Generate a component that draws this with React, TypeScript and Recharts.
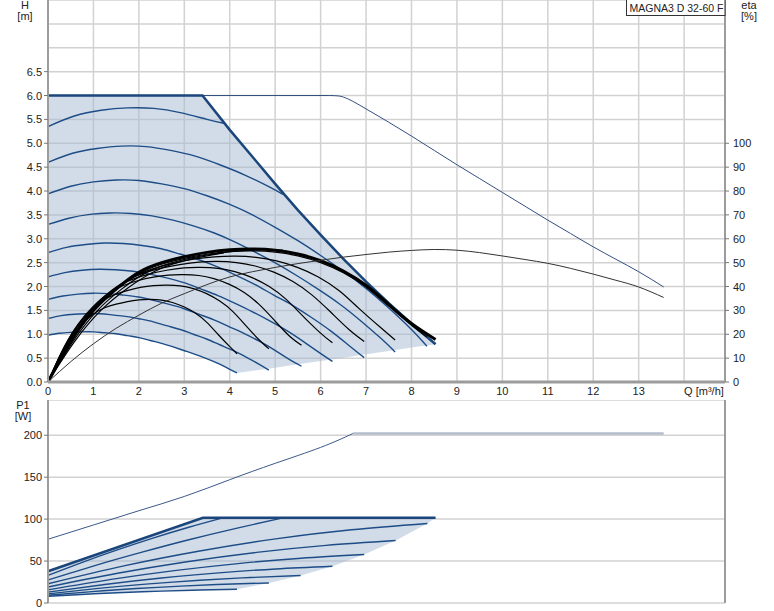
import { Area, CartesianGrid, ComposedChart, Line, XAxis, YAxis } from "recharts";

type Pt = [number, number];
type Band = [number, number, number];

// axis ticks
const qTicks = [0, 1, 2, 3, 4, 5, 6, 7, 8, 9, 10, 11, 12, 13, 14];
const hTicks = [0, 0.5, 1, 1.5, 2, 2.5, 3, 3.5, 4, 4.5, 5, 5.5, 6, 6.5, 7, 7.5];
const etaTicks = [0, 10, 20, 30, 40, 50, 60, 70, 80, 90, 100];
const pTicks = [0, 50, 100, 150, 200];

// H(Q) speed curves, [Q m3/h, H m]
const hSpeed098: Pt[] = [[0, 0.98], [0.25, 1.02], [0.5, 1.04], [0.75, 1.05], [1.0, 1.05], [1.25, 1.03], [1.5, 1.01], [1.75, 0.97], [2.0, 0.93], [2.25, 0.87], [2.5, 0.81], [2.74, 0.74], [2.99, 0.66], [3.24, 0.58], [3.49, 0.49], [3.74, 0.39], [3.99, 0.27], [4.16, 0.19]];
const hSpeed133: Pt[] = [[0, 1.33], [0.29, 1.39], [0.58, 1.42], [0.87, 1.43], [1.16, 1.43], [1.45, 1.4], [1.74, 1.37], [2.03, 1.32], [2.32, 1.26], [2.61, 1.18], [2.91, 1.1], [3.2, 1.0], [3.49, 0.9], [3.78, 0.78], [4.07, 0.66], [4.36, 0.52], [4.65, 0.37], [4.86, 0.25]];
const hSpeed173: Pt[] = [[0, 1.73], [0.33, 1.8], [0.66, 1.84], [0.99, 1.86], [1.33, 1.85], [1.66, 1.82], [1.99, 1.78], [2.32, 1.71], [2.65, 1.63], [2.98, 1.54], [3.32, 1.42], [3.65, 1.3], [3.98, 1.16], [4.31, 1.02], [4.64, 0.86], [4.97, 0.68], [5.3, 0.48], [5.58, 0.33]];
const hSpeed220: Pt[] = [[0, 2.2], [0.37, 2.29], [0.75, 2.34], [1.12, 2.36], [1.49, 2.35], [1.87, 2.32], [2.24, 2.26], [2.61, 2.18], [2.99, 2.08], [3.36, 1.95], [3.74, 1.81], [4.11, 1.65], [4.48, 1.48], [4.86, 1.29], [5.23, 1.09], [5.6, 0.86], [5.98, 0.61], [6.26, 0.43]];
const hSpeed271: Pt[] = [[0, 2.71], [0.41, 2.82], [0.83, 2.88], [1.24, 2.91], [1.66, 2.9], [2.07, 2.86], [2.49, 2.79], [2.9, 2.68], [3.32, 2.56], [3.73, 2.41], [4.15, 2.23], [4.56, 2.04], [4.97, 1.82], [5.39, 1.6], [5.8, 1.35], [6.22, 1.07], [6.63, 0.76], [6.96, 0.51]];
const hSpeed330: Pt[] = [[0, 3.3], [0.46, 3.43], [0.92, 3.51], [1.37, 3.54], [1.83, 3.53], [2.29, 3.48], [2.75, 3.39], [3.2, 3.27], [3.66, 3.12], [4.12, 2.93], [4.58, 2.71], [5.03, 2.48], [5.49, 2.22], [5.95, 1.94], [6.41, 1.64], [6.86, 1.3], [7.32, 0.92], [7.64, 0.63]];
const hSpeed394: Pt[] = [[0, 3.94], [0.5, 4.1], [1, 4.19], [1.5, 4.23], [2, 4.22], [2.5, 4.15], [3, 4.05], [3.5, 3.9], [4, 3.72], [4.5, 3.5], [5, 3.24], [5.5, 2.96], [6, 2.65], [6.5, 2.32], [7, 1.96], [7.5, 1.55], [8, 1.1], [8.34, 0.75]];
const hSpeed460: Pt[] = [[0, 4.6], [0.54, 4.79], [1.08, 4.89], [1.62, 4.94], [2.16, 4.93], [2.7, 4.85], [3.24, 4.73], [3.78, 4.55], [4.32, 4.34], [4.86, 4.09], [5.17, 3.93]];
const hSpeed535: Pt[] = [[0, 5.35], [0.58, 5.57], [1.17, 5.69], [1.75, 5.74], [2.33, 5.73], [2.91, 5.64], [3.5, 5.5], [3.87, 5.42]];
const hLimit: Pt[] = [[0, 6.0], [3.4, 6.0], [4.0, 5.28], [4.55, 4.66], [5.0, 4.15], [5.5, 3.6], [6.0, 3.08], [6.5, 2.58], [7.0, 2.1], [7.5, 1.65], [8.0, 1.22], [8.53, 0.79]];
const hMaxThin: Pt[] = [[0, 6.0], [6.2, 6.0], [6.4, 5.99], [6.6, 5.93], [6.8, 5.83], [7, 5.72], [7.5, 5.44], [8, 5.15], [8.5, 4.85], [9, 4.55], [9.5, 4.26], [10, 3.97], [10.5, 3.68], [11, 3.39], [11.5, 3.11], [12, 2.83], [12.5, 2.57], [13, 2.31], [13.55, 1.99]];
// operating range band [Q, low H, high H]
const hBand: Band[] = [[0, 0.98, 6.0], [0.5, 1.04, 6.0], [1.0, 1.05, 6.0], [1.5, 1.01, 6.0], [2.0, 0.93, 6.0], [2.5, 0.81, 6.0], [3.0, 0.66, 6.0], [3.4, 0.53, 6.0], [3.5, 0.49, 5.88], [4.0, 0.27, 5.28], [4.16, 0.19, 5.1], [4.55, 0.24, 4.66], [5.0, 0.3, 4.15], [5.5, 0.37, 3.6], [6.0, 0.44, 3.08], [6.5, 0.51, 2.58], [7.0, 0.58, 2.1], [7.5, 0.65, 1.65], [8.0, 0.72, 1.22], [8.53, 0.79, 0.79]];

// eta(Q) curves, [Q, %]
const eta098: Pt[] = [[0, 0], [0.25, 10.4], [0.5, 18.6], [0.75, 24.3], [1.0, 28.5], [1.25, 31.1], [1.5, 32.6], [1.75, 33.7], [2.0, 34.4], [2.25, 34.6], [2.5, 34.3], [2.74, 33.3], [2.99, 31.5], [3.24, 28.9], [3.49, 25.1], [3.74, 20.0], [3.99, 15.0], [4.16, 11.8]];
const eta133: Pt[] = [[0, 0], [0.29, 12.2], [0.58, 21.8], [0.87, 28.5], [1.16, 33.5], [1.45, 36.5], [1.74, 38.3], [2.03, 39.6], [2.32, 40.4], [2.61, 40.6], [2.91, 40.3], [3.2, 39.1], [3.49, 37.0], [3.78, 33.9], [4.07, 29.5], [4.36, 23.5], [4.65, 17.6], [4.86, 13.9]];
const eta173: Pt[] = [[0, 0], [0.33, 13.5], [0.66, 24.2], [0.99, 31.6], [1.33, 37.1], [1.66, 40.4], [1.99, 42.5], [2.32, 43.9], [2.65, 44.8], [2.98, 45.0], [3.32, 44.6], [3.65, 43.3], [3.98, 41.0], [4.31, 37.6], [4.64, 32.6], [4.97, 26.1], [5.3, 19.5], [5.58, 15.4]];
const eta220: Pt[] = [[0, 0], [0.37, 14.4], [0.75, 25.8], [1.12, 33.7], [1.49, 39.6], [1.87, 43.1], [2.24, 45.3], [2.61, 46.8], [2.99, 47.8], [3.36, 48.0], [3.74, 47.6], [4.11, 46.2], [4.48, 43.8], [4.86, 40.1], [5.23, 34.8], [5.6, 27.8], [5.98, 20.8], [6.26, 16.4]];
const eta271: Pt[] = [[0, 0], [0.41, 15.2], [0.83, 27.1], [1.24, 35.4], [1.66, 41.7], [2.07, 45.4], [2.49, 47.7], [2.9, 49.2], [3.32, 50.2], [3.73, 50.5], [4.15, 50.0], [4.56, 48.6], [4.97, 46.0], [5.39, 42.1], [5.8, 36.6], [6.22, 29.3], [6.63, 21.9], [6.96, 17.0]];
const eta330: Pt[] = [[0, 0], [0.46, 15.8], [0.92, 28.3], [1.37, 37.0], [1.83, 43.5], [2.29, 47.3], [2.75, 49.7], [3.2, 51.4], [3.66, 52.4], [4.12, 52.7], [4.58, 52.2], [5.03, 50.7], [5.49, 48.0], [5.95, 44.0], [6.41, 38.2], [6.86, 30.5], [7.32, 22.8], [7.64, 17.6]];
const eta394: Pt[] = [[0, 0], [0.5, 16.5], [1, 29.5], [1.5, 38.5], [2, 45.3], [2.5, 49.3], [3, 51.8], [3.5, 53.5], [4, 54.6], [4.5, 54.9], [5, 54.4], [5.5, 52.8], [6, 50.0], [6.5, 45.8], [7, 39.8], [7.5, 31.8], [8, 23.8], [8.34, 18.8]];
const eta460: Pt[] = [[0, 0], [0.54, 16.7], [1.08, 29.8], [1.62, 38.9], [2.16, 45.8], [2.7, 49.8], [3.24, 52.3], [3.78, 54.0], [4.32, 55.1], [4.86, 55.4], [5.17, 55.2]];
const eta535: Pt[] = [[0, 0], [0.58, 16.8], [1.17, 30.1], [1.75, 39.3], [2.33, 46.2], [2.91, 50.3], [3.5, 52.8], [3.87, 54.1]];
const etaLimit: Pt[] = [[0, 0], [0.5, 17], [1, 30], [1.5, 39], [2, 46], [2.5, 50], [3, 52.5], [3.5, 54.3], [4, 55.4], [4.5, 55.7], [5, 55.2], [5.5, 53.6], [6, 50.8], [6.5, 46.5], [7, 40.5], [7.5, 32.5], [8, 24.5], [8.53, 17.8]];
const etaMaxThin: Pt[] = [[0, 0], [0.5, 8.5], [1, 16], [1.5, 22.5], [2, 28], [2.5, 33], [3, 37], [3.5, 40.8], [4, 44], [4.5, 46.2], [5, 48.0], [5.5, 49.6], [6, 51.0], [6.5, 52.3], [7, 53.4], [7.5, 54.4], [8, 55.1], [8.5, 55.5], [9, 55.2], [9.5, 54.2], [10, 52.8], [10.5, 51.3], [11, 49.7], [11.5, 47.6], [12, 45.2], [12.5, 42.6], [13, 39.8], [13.55, 35.4]];

// P1(Q) curves, [Q, W]
const p098: Pt[] = [[0, 8.0], [0.83, 10.5], [1.66, 12.6], [2.5, 14.2], [3.33, 15.5], [4.16, 16.4]];
const p133: Pt[] = [[0, 9.2], [0.97, 13.6], [1.94, 17.2], [2.92, 20.1], [3.89, 22.4], [4.86, 23.9]];
const p173: Pt[] = [[0, 10.9], [1.11, 17.4], [2.22, 22.8], [3.34, 27.1], [4.45, 30.4], [5.56, 32.7]];
const p220: Pt[] = [[0, 13.0], [1.25, 22.1], [2.5, 29.8], [3.76, 35.9], [5.01, 40.6], [6.26, 43.8]];
const p271: Pt[] = [[0, 15.6], [1.39, 28.1], [2.78, 38.6], [4.18, 47.0], [5.57, 53.4], [6.96, 57.8]];
const p330: Pt[] = [[0, 19.0], [1.53, 35.4], [3.06, 49.2], [4.59, 60.3], [6.12, 68.7], [7.65, 74.5]];
const p394: Pt[] = [[0, 22.9], [1.67, 44.2], [3.34, 62.0], [5.01, 76.4], [6.68, 87.3], [8.35, 94.8]];
const p460: Pt[] = [[0, 27.4], [1.03, 44.6], [2.07, 60.6], [3.1, 75.4], [4.14, 89.0], [5.17, 101.5]];
const p535: Pt[] = [[0, 32.9], [0.77, 48.8], [1.54, 63.6], [2.31, 77.4], [3.08, 90.0], [3.85, 101.5]];
const pLimit: Pt[] = [[0, 37.9], [3.41, 101.5], [8.53, 101.5]];
const pMaxRise: Pt[] = [[0, 76], [1, 93], [2, 110], [3, 127], [4, 147], [5, 166.5], [6, 185.5], [6.71, 202]];
const pMaxFlat: Pt[] = [[6.71, 202], [13.55, 202]];
const pBand: Band[] = [[0, 8.0, 37.9], [0.83, 10.5, 53.4], [1.66, 12.6, 68.9], [2.5, 14.2, 84.5], [3.33, 15.5, 100.0], [3.41, 15.6, 101.5], [4.16, 16.4, 101.5], [4.86, 23.9, 101.5], [5.56, 32.7, 101.5], [6.26, 43.8, 101.5], [6.96, 57.8, 101.5], [7.65, 74.5, 101.5], [8.35, 94.8, 101.5], [8.53, 101.5, 101.5]];

const hSpeeds = [hSpeed098, hSpeed133, hSpeed173, hSpeed220, hSpeed271, hSpeed330, hSpeed394, hSpeed460, hSpeed535];
const etaSpeeds = [eta098, eta133, eta173, eta220, eta271, eta330, eta394, eta460, eta535];
const pSpeeds = [p098, p133, p173, p220, p271, p330, p394, p460, p535];

const pts = (a: Pt[]) => a.map(([q, v]) => ({ q, v }));
const band = (a: Band[]) => a.map(([q, lo, hi]) => ({ q, r: [lo, hi] }));

const NAVY = "#1d4c86";
const GRID = "#d2d2d2";
const AXIS = "#9c9c9c";
const FONT = "'Liberation Sans', Arial, sans-serif";
const TXT = "#222";

const QTick = ({ x, y, payload }: any) => {
  if (payload.value === 14) {
    return (
      <text x={x} y={y + 13} fontSize={11} fill={TXT} fontFamily={FONT}>
        Q [m³/h]
      </text>
    );
  }
  return (
    <text x={x} y={y + 13} textAnchor="middle" fontSize={11} fill={TXT} fontFamily={FONT}>
      {payload.value}
    </text>
  );
};

const HTick = ({ x, y, payload }: any) => {
  if (payload.value > 6.5) return <g />;
  return (
    <g>
      <line x1={x - 4} x2={x} y1={y} y2={y} stroke="#777" />
      <text x={x - 6} y={y + 4} textAnchor="end" fontSize={11} fill={TXT} fontFamily={FONT}>
        {payload.value.toFixed(1)}
      </text>
    </g>
  );
};

const EtaTick = ({ x, y, payload }: any) => (
  <g>
    <line x1={x} x2={x + 4} y1={y} y2={y} stroke="#777" />
    <text x={x + 8} y={y + 4} fontSize={11} fill={TXT} fontFamily={FONT}>
      {payload.value}
    </text>
  </g>
);

const PTick = ({ x, y, payload }: any) => (
  <g>
    <line x1={x - 4} x2={x} y1={y} y2={y} stroke="#777" />
    <text x={x - 6} y={y + 4} textAnchor="end" fontSize={11} fill={TXT} fontFamily={FONT}>
      {payload.value}
    </text>
  </g>
);

export default function App() {
  return (
    <div style={{ position: "absolute", left: 0, top: 0, width: 774, height: 611, background: "#fff", fontFamily: FONT }}>
      <div style={{ position: "absolute", left: 0, top: 0 }}>
        <ComposedChart width={774} height={400} margin={{ top: 0, right: 0, bottom: 0, left: 0 }}>
          <CartesianGrid stroke={GRID} strokeWidth={1.5} />
          <XAxis
            dataKey="q"
            type="number"
            domain={[0, 14.9]}
            ticks={qTicks}
            interval={0}
            height={18}
            tickSize={0}
            tickMargin={0}
            tickLine={false}
            tick={<QTick />}
            axisLine={{ stroke: AXIS, strokeWidth: 3 }}
          />
          <YAxis
            type="number"
            domain={[0, 8]}
            ticks={hTicks}
            interval={0}
            width={48}
            tickSize={0}
            tickMargin={0}
            tickLine={false}
            tick={<HTick />}
            axisLine={{ stroke: AXIS, strokeWidth: 2 }}
          />
          <YAxis
            yAxisId="eta"
            orientation="right"
            type="number"
            domain={[0, 160]}
            ticks={etaTicks}
            interval={0}
            width={49}
            tickSize={0}
            tickMargin={0}
            tickLine={false}
            tick={<EtaTick />}
            axisLine={{ stroke: AXIS, strokeWidth: 2 }}
          />
          <Area
            data={band(hBand)}
            dataKey="r"
            type="linear"
            stroke="none"
            fill="#a3b9d1"
            fillOpacity={0.5}
            isAnimationActive={false}
          />
          {hSpeeds.map((c, i) => (
            <Line
              key={"h" + i}
              data={pts(c)}
              dataKey="v"
              type="natural"
              stroke={NAVY}
              strokeWidth={1.4}
              dot={false}
              isAnimationActive={false}
            />
          ))}
          <Line data={pts(hMaxThin)} dataKey="v" type="monotone" stroke="#34507f" strokeWidth={1} dot={false} isAnimationActive={false} />
          <Line data={pts(hLimit)} dataKey="v" type="linear" stroke="#1b467c" strokeWidth={2.5} dot={false} isAnimationActive={false} />
          {etaSpeeds.map((c, i) => (
            <Line
              key={"e" + i}
              yAxisId="eta"
              data={pts(c)}
              dataKey="v"
              type="natural"
              stroke="#000"
              strokeWidth={1.2}
              dot={false}
              isAnimationActive={false}
            />
          ))}
          <Line yAxisId="eta" data={pts(etaLimit)} dataKey="v" type="natural" stroke="#000" strokeWidth={3} dot={false} isAnimationActive={false} />
          <Line yAxisId="eta" data={pts(etaMaxThin)} dataKey="v" type="natural" stroke="#333" strokeWidth={1} dot={false} isAnimationActive={false} />
        </ComposedChart>
      </div>

      <div style={{ position: "absolute", left: 0, top: 400 }}>
        <ComposedChart width={774} height={211} margin={{ top: 0, right: 0, bottom: 8, left: 0 }}>
          <CartesianGrid stroke={GRID} strokeWidth={1.5} />
          <XAxis
            dataKey="q"
            type="number"
            domain={[0, 14.9]}
            ticks={qTicks}
            interval={0}
            height={0}
            tick={false}
            tickLine={false}
            axisLine={{ stroke: AXIS, strokeWidth: 3 }}
          />
          <XAxis
            xAxisId="top"
            orientation="top"
            dataKey="q"
            type="number"
            domain={[0, 14.9]}
            height={0}
            tick={false}
            tickLine={false}
            axisLine={{ stroke: "#b4b4b4", strokeWidth: 2 }}
          />
          <YAxis
            type="number"
            domain={[0, 242]}
            ticks={pTicks}
            interval={0}
            width={48}
            tickSize={0}
            tickMargin={0}
            tickLine={false}
            tick={<PTick />}
            axisLine={{ stroke: AXIS, strokeWidth: 2 }}
          />
          <YAxis
            yAxisId="r"
            orientation="right"
            type="number"
            domain={[0, 242]}
            width={49}
            tick={false}
            tickLine={false}
            axisLine={{ stroke: AXIS, strokeWidth: 2 }}
          />
          <Area
            data={band(pBand)}
            dataKey="r"
            type="linear"
            stroke="none"
            fill="#a3b9d1"
            fillOpacity={0.5}
            isAnimationActive={false}
          />
          {pSpeeds.map((c, i) => (
            <Line
              key={"p" + i}
              data={pts(c)}
              dataKey="v"
              type="natural"
              stroke={NAVY}
              strokeWidth={1.4}
              dot={false}
              isAnimationActive={false}
            />
          ))}
          <Line data={pts(pLimit)} dataKey="v" type="linear" stroke="#1b467c" strokeWidth={2.5} dot={false} isAnimationActive={false} />
          <Line data={pts(pMaxRise)} dataKey="v" type="natural" stroke="#3c5888" strokeWidth={1} dot={false} isAnimationActive={false} />
          <Line data={pts(pMaxFlat)} dataKey="v" type="linear" stroke="#b3bdcc" strokeWidth={2.5} dot={false} isAnimationActive={false} />
        </ComposedChart>
      </div>

      <svg width={774} height={611} style={{ position: "absolute", left: 0, top: 0, pointerEvents: "none" }}>
        <g fontSize={11} fill={TXT} fontFamily={FONT} textAnchor="middle">
          <text x={25} y={9}>H</text>
          <text x={25} y={20}>[m]</text>
          <text x={749} y={9}>eta</text>
          <text x={749} y={20}>[%]</text>
          <text x={23} y={409}>P1</text>
          <text x={23} y={420}>[W]</text>
        </g>
        <rect x={626.5} y={-0.5} width={98.5} height={16} fill="#fff" stroke="#333" strokeWidth={1} />
        <text x={629.5} y={12} fontSize={10.5} fill={TXT} fontFamily={FONT}>
          MAGNA3 D 32-60 F
        </text>
      </svg>
    </div>
  );
}
